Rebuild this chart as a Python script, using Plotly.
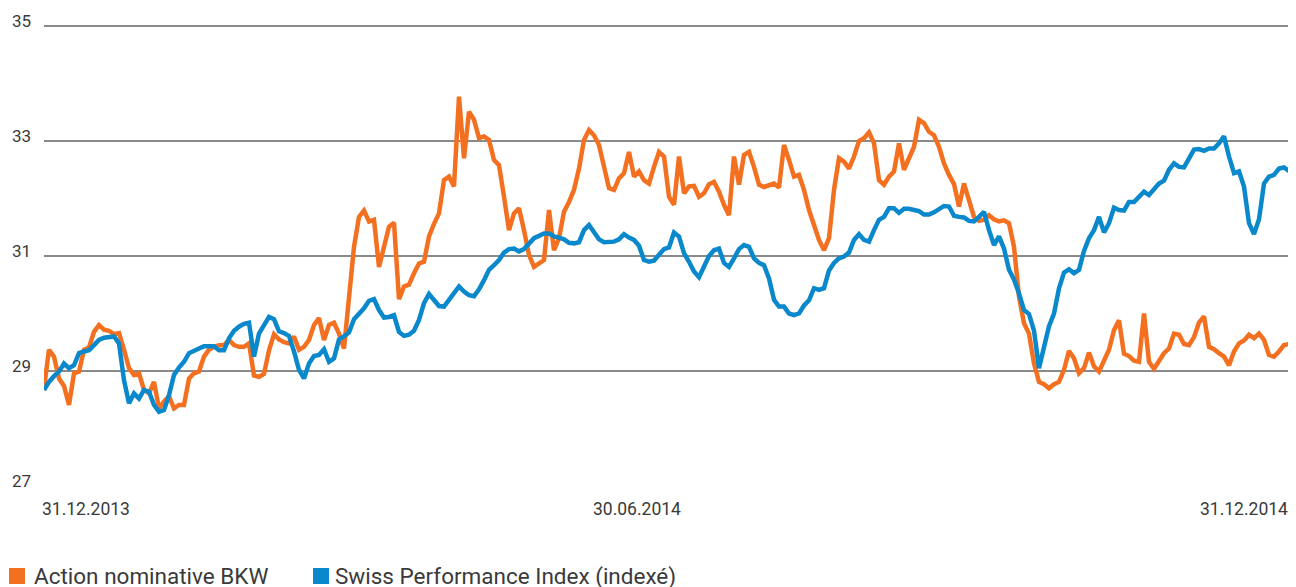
import plotly.graph_objects as go

# ---- data ----
bkw = [
    # Jan - Feb
    28.70, 29.37, 29.25, 28.87, 28.74, 28.41, 28.96, 28.99, 29.37, 29.41,
    29.68, 29.80, 29.72, 29.70, 29.64, 29.66, 29.37, 29.05, 28.93, 28.96,
    28.67, 28.61, 28.81, 28.35, 28.47, 28.56, 28.35, 28.41, 28.41, 28.87,
    28.96, 28.99, 29.25, 29.37, 29.42, 29.45, 29.45, 29.54, 29.45, 29.42,
    29.42, 29.48,
    # Mar - Apr
    28.92, 28.90, 28.95, 29.36, 29.64, 29.55, 29.50, 29.48, 29.60, 29.37,
    29.42, 29.54, 29.80, 29.92, 29.54, 29.80, 29.84, 29.65, 29.39, 30.35,
    31.16, 31.68, 31.79, 31.60, 31.63, 30.81, 31.16, 31.51, 31.58, 30.25,
    30.47, 30.50, 30.70, 30.87, 30.90, 31.34, 31.56, 31.74, 32.32, 32.38,
    32.21, 33.77,
    # May - Jun
    32.70, 33.51, 33.37, 33.05, 33.08, 33.02, 32.67, 32.58, 32.03, 31.45,
    31.74, 31.83, 31.45, 31.02, 30.81, 30.87, 30.93, 31.80, 31.10, 31.31,
    31.77, 31.94, 32.15, 32.52, 33.02, 33.19, 33.10, 32.93, 32.52, 32.18,
    32.15, 32.35, 32.44, 32.81, 32.38, 32.47, 32.32, 32.26, 32.55, 32.81,
    32.73, 32.03,
    # Jul - Aug
    31.89, 32.73, 32.09, 32.21, 32.22, 32.03, 32.09, 32.25, 32.29, 32.12,
    31.89, 31.71, 32.73, 32.24, 32.76, 32.81, 32.55, 32.24, 32.20, 32.22,
    32.26, 32.19, 32.93, 32.67, 32.38, 32.41, 32.15, 31.80, 31.51, 31.28,
    31.10, 31.31, 32.15, 32.70, 32.64, 32.52, 32.73, 33.00, 33.05, 33.15,
    32.96, 32.32,
    # Sep - Oct
    32.24, 32.38, 32.47, 32.96, 32.50, 32.70, 32.90, 33.37, 33.31, 33.16,
    33.10, 32.90, 32.61, 32.41, 32.25, 31.86, 32.26, 31.97, 31.68, 31.61,
    31.63, 31.71, 31.64, 31.60, 31.62, 31.57, 31.16, 30.29, 29.83, 29.65,
    29.13, 28.81, 28.77, 28.70, 28.77, 28.81, 29.02, 29.35, 29.22, 28.96,
    29.05, 29.32,
    # Nov - Dec
    29.08, 28.99, 29.16, 29.37, 29.71, 29.88, 29.30, 29.26, 29.18, 29.16,
    30.00, 29.16, 29.04, 29.16, 29.31, 29.39, 29.65, 29.63, 29.47, 29.45,
    29.59, 29.84, 29.95, 29.42, 29.38, 29.31, 29.25, 29.10, 29.34, 29.48,
    29.53, 29.63, 29.57, 29.65, 29.54, 29.28, 29.25, 29.34, 29.45, 29.47,
    29.46,
]

spi = [
    # Jan - Feb
    28.67, 28.81, 28.91, 28.99, 29.13, 29.05, 29.10, 29.31, 29.34, 29.36,
    29.45, 29.54, 29.58, 29.60, 29.60, 29.48, 28.84, 28.44, 28.61, 28.52,
    28.67, 28.64, 28.41, 28.29, 28.32, 28.58, 28.93, 29.06, 29.16, 29.31,
    29.34, 29.39, 29.43, 29.43, 29.43, 29.36, 29.36, 29.57, 29.70, 29.77,
    29.82, 29.84,
    # Mar - Apr
    29.25, 29.65, 29.78, 29.94, 29.90, 29.69, 29.66, 29.61, 29.34, 29.02,
    28.87, 29.13, 29.26, 29.28, 29.38, 29.16, 29.22, 29.55, 29.60, 29.67,
    29.90, 30.00, 30.09, 30.22, 30.25, 30.06, 29.93, 29.94, 29.97, 29.68,
    29.61, 29.63, 29.70, 29.89, 30.18, 30.34, 30.24, 30.13, 30.12, 30.24,
    30.38, 30.47,
    # May - Jun
    30.38, 30.32, 30.30, 30.42, 30.58, 30.76, 30.84, 30.93, 31.06, 31.12,
    31.13, 31.08, 31.12, 31.22, 31.31, 31.35, 31.39, 31.39, 31.34, 31.32,
    31.29, 31.23, 31.22, 31.24, 31.45, 31.54, 31.41, 31.29, 31.24, 31.24,
    31.25, 31.29, 31.38, 31.32, 31.28, 31.18, 30.93, 30.90, 30.92, 31.02,
    31.12, 31.15,
    # Jul - Aug
    31.41, 31.34, 31.05, 30.90, 30.73, 30.63, 30.81, 31.00, 31.10, 31.13,
    30.88, 30.81, 30.96, 31.12, 31.19, 31.16, 30.96, 30.88, 30.84, 30.61,
    30.24, 30.12, 30.12, 30.00, 29.97, 30.00, 30.14, 30.23, 30.44, 30.41,
    30.44, 30.75, 30.88, 30.96, 30.99, 31.06, 31.28, 31.38, 31.28, 31.25,
    31.45, 31.63,
    # Sep - Oct
    31.68, 31.83, 31.83, 31.75, 31.82, 31.82, 31.80, 31.78, 31.72, 31.72,
    31.76, 31.81, 31.87, 31.86, 31.70, 31.68, 31.67, 31.61, 31.60, 31.68,
    31.77, 31.45, 31.19, 31.34, 31.13, 30.76, 30.59, 30.35, 30.06, 29.99,
    29.70, 29.05, 29.38, 29.78, 30.00, 30.44, 30.71, 30.77, 30.70, 30.76,
    31.09, 31.31,
    # Nov - Dec
    31.45, 31.68, 31.41, 31.57, 31.84, 31.80, 31.79, 31.94, 31.94, 32.03,
    32.12, 32.06, 32.15, 32.26, 32.31, 32.50, 32.61, 32.55, 32.54, 32.70,
    32.85, 32.86, 32.83, 32.87, 32.87, 32.96, 33.08, 32.73, 32.44, 32.47,
    32.21, 31.57, 31.38, 31.64, 32.26, 32.38, 32.41, 32.52, 32.54, 32.48,
    32.37,
]

date_labels = ["31.12.2013", "30.06.2014", "31.12.2014"]
y_ticks = [27, 29, 31, 33, 35]
series_names = ["Action nominative BKW", "Swiss Performance Index (indexé)"]

ORANGE = "#F37021"
BLUE = "#0A88CC"
TEXT = "#3a3a3a"
FONT = "Roboto"

x = list(range(len(bkw)))
n_last = len(bkw) - 1

fig = go.Figure()
fig.add_trace(go.Scatter(x=x, y=bkw, mode="lines", name=series_names[0],
                         line=dict(color=ORANGE, width=4.5)))
fig.add_trace(go.Scatter(x=list(range(len(spi))), y=spi, mode="lines", name=series_names[1],
                         line=dict(color=BLUE, width=4.5)))

# page body has an 8px default margin; lay the figure out in page pixels
OFF = 8
W, H = 1296, 587
PLOT_LEFT, PLOT_RIGHT = 44, 1294          # page px
Y35_PAGE, Y27_PAGE = 26, 486              # page px of the 35 and 27 levels
px_per_unit = (Y27_PAGE - Y35_PAGE) / 8.0
top_pad = 6                                # extra room above 35 so its gridline is shown
y_top = 35 + top_pad / px_per_unit

L = PLOT_LEFT - OFF
R = W - (PLOT_RIGHT - OFF)
T = Y35_PAGE - OFF - top_pad
B = H - (Y27_PAGE - OFF)
plot_w = PLOT_RIGHT - PLOT_LEFT
plot_h = H - T - B


def px_x(p):
    return (p - PLOT_LEFT) / plot_w


def px_y(p):
    return (Y27_PAGE - p) / plot_h


annotations = []
# y labels
for v in y_ticks:
    annotations.append(dict(xref="paper", yref="y", x=0, y=v, xanchor="left", yanchor="middle",
                            xshift=-34, yshift=5, text=str(v), showarrow=False,
                            font=dict(family=FONT, size=17, color=TEXT)))
# x labels
mid_pos = 118.6
for lab, xv, anc, sh in zip(date_labels, [0, mid_pos, n_last], ["left", "center", "right"], [-4, 0, -4]):
    annotations.append(dict(xref="x", yref="paper", x=xv, y=px_y(509), xanchor=anc, yanchor="middle",
                            xshift=sh, text=lab, showarrow=False,
                            font=dict(family=FONT, size=17.5, color=TEXT)))
# legend
shapes = []
for name, col, sq_x, tx in zip(series_names, [ORANGE, BLUE], [9, 313], [32, 333]):
    shapes.append(dict(type="rect", xref="paper", yref="paper",
                       x0=px_x(sq_x), x1=px_x(sq_x + 16), y0=px_y(584), y1=px_y(568),
                       fillcolor=col, line=dict(width=0)))
    annotations.append(dict(xref="paper", yref="paper", x=px_x(tx), y=px_y(576),
                            xanchor="left", yanchor="middle", text=name, showarrow=False,
                            font=dict(family=FONT, size=22.5, color=TEXT)))

fig.update_layout(
    width=W, height=H,
    margin=dict(l=L, r=R, t=T, b=B, pad=0),
    paper_bgcolor="white", plot_bgcolor="white",
    showlegend=False,
    xaxis=dict(range=[0, n_last], showgrid=False, zeroline=False, showticklabels=False,
               showline=False, fixedrange=True),
    yaxis=dict(range=[27, y_top], tickvals=y_ticks[1:], showgrid=True, gridcolor="#8a8a8a",
               gridwidth=1.6, zeroline=False, showticklabels=False, showline=False,
               fixedrange=True),
    annotations=annotations,
    shapes=shapes,
)

fig.write_html("out.html")
